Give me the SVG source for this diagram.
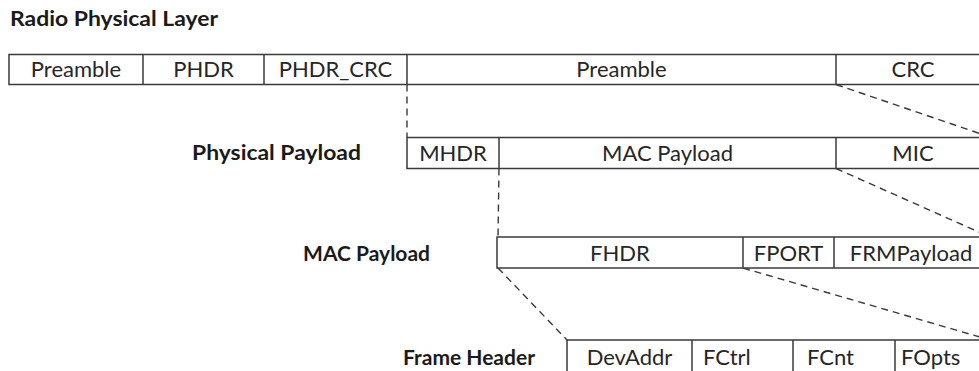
<svg xmlns="http://www.w3.org/2000/svg" width="979" height="371" viewBox="0 0 979 371">
<style>
.bg{fill:#ffffff}
.cell{fill:#ffffff;stroke:#3a3a3a;stroke-width:1.5}
.div{stroke:#3a3a3a;stroke-width:1.5}
.t{font-family:Lato,"Open Sans","Liberation Sans",sans-serif;font-size:22px;fill:#262626;text-anchor:middle}
.tl{font-family:Lato,"Open Sans","Liberation Sans",sans-serif;font-size:22px;fill:#262626}
.h{font-family:Lato,"Open Sans","Liberation Sans",sans-serif;font-size:21px;font-weight:bold;fill:#1a1a1a}
.he{font-family:Lato,"Open Sans","Liberation Sans",sans-serif;font-size:21px;font-weight:bold;fill:#1a1a1a;text-anchor:end}
.dash{fill:none;stroke:#3a3a3a;stroke-width:1.4;stroke-dasharray:7 5}
</style>
<rect class="bg" x="0" y="0" width="979" height="371"/>
<text id="title" class="h" x="10" y="26" textLength="208" lengthAdjust="spacingAndGlyphs">Radio Physical Layer</text>

<g id="connectors">
<line class="dash" x1="407" y1="84.5" x2="407" y2="137"/>
<line class="dash" x1="836" y1="84.5" x2="990" y2="137"/>
<line class="dash" x1="499" y1="168.5" x2="498" y2="237"/>
<line class="dash" x1="836" y1="168.5" x2="990" y2="237"/>
<line class="dash" x1="498" y1="268" x2="567" y2="340"/>
<line class="dash" x1="743" y1="268" x2="990" y2="340"/>
</g>

<g id="radio-physical-layer">
<rect class="cell" x="9" y="54.5" width="981" height="30"/>
<line class="div" x1="143" y1="54.5" x2="143" y2="84.5"/>
<line class="div" x1="264" y1="54.5" x2="264" y2="84.5"/>
<line class="div" x1="407" y1="54.5" x2="407" y2="84.5"/>
<line class="div" x1="836" y1="54.5" x2="836" y2="84.5"/>
<text class="t" x="76" y="77">Preamble</text>
<text class="t" x="203.5" y="77">PHDR</text>
<text class="t" x="335.5" y="77">PHDR_CRC</text>
<text class="t" x="621.5" y="77">Preamble</text>
<text class="t" x="913" y="77">CRC</text>
</g>

<g id="physical-payload">
<text class="he" x="361" y="160" textLength="169" lengthAdjust="spacingAndGlyphs">Physical Payload</text>
<rect class="cell" x="407" y="137.5" width="583" height="31"/>
<line class="div" x1="499" y1="137.5" x2="499" y2="168.5"/>
<line class="div" x1="836" y1="137.5" x2="836" y2="168.5"/>
<text class="t" x="453" y="161">MHDR</text>
<text class="t" x="667.5" y="161">MAC Payload</text>
<text class="t" x="913" y="161">MIC</text>
</g>

<g id="mac-payload">
<text class="he" x="430" y="261">MAC Payload</text>
<rect class="cell" x="497" y="237" width="493" height="31"/>
<line class="div" x1="743" y1="237" x2="743" y2="268"/>
<line class="div" x1="834" y1="237" x2="834" y2="268"/>
<text class="t" x="620" y="261">FHDR</text>
<text class="t" x="788.5" y="261">FPORT</text>
<text class="t" x="911" y="261">FRMPayload</text>
</g>

<g id="frame-header">
<text class="he" x="535" y="365">Frame Header</text>
<rect class="cell" x="567" y="340" width="423" height="40"/>
<line class="div" x1="692" y1="340" x2="692" y2="380"/>
<line class="div" x1="793" y1="340" x2="793" y2="380"/>
<line class="div" x1="895" y1="340" x2="895" y2="380"/>
<text class="t" x="629.5" y="365">DevAddr</text>
<text class="tl" x="703" y="365">FCtrl</text>
<text class="tl" x="807" y="365">FCnt</text>
<text class="tl" x="901" y="365">FOpts</text>
</g>
</svg>
